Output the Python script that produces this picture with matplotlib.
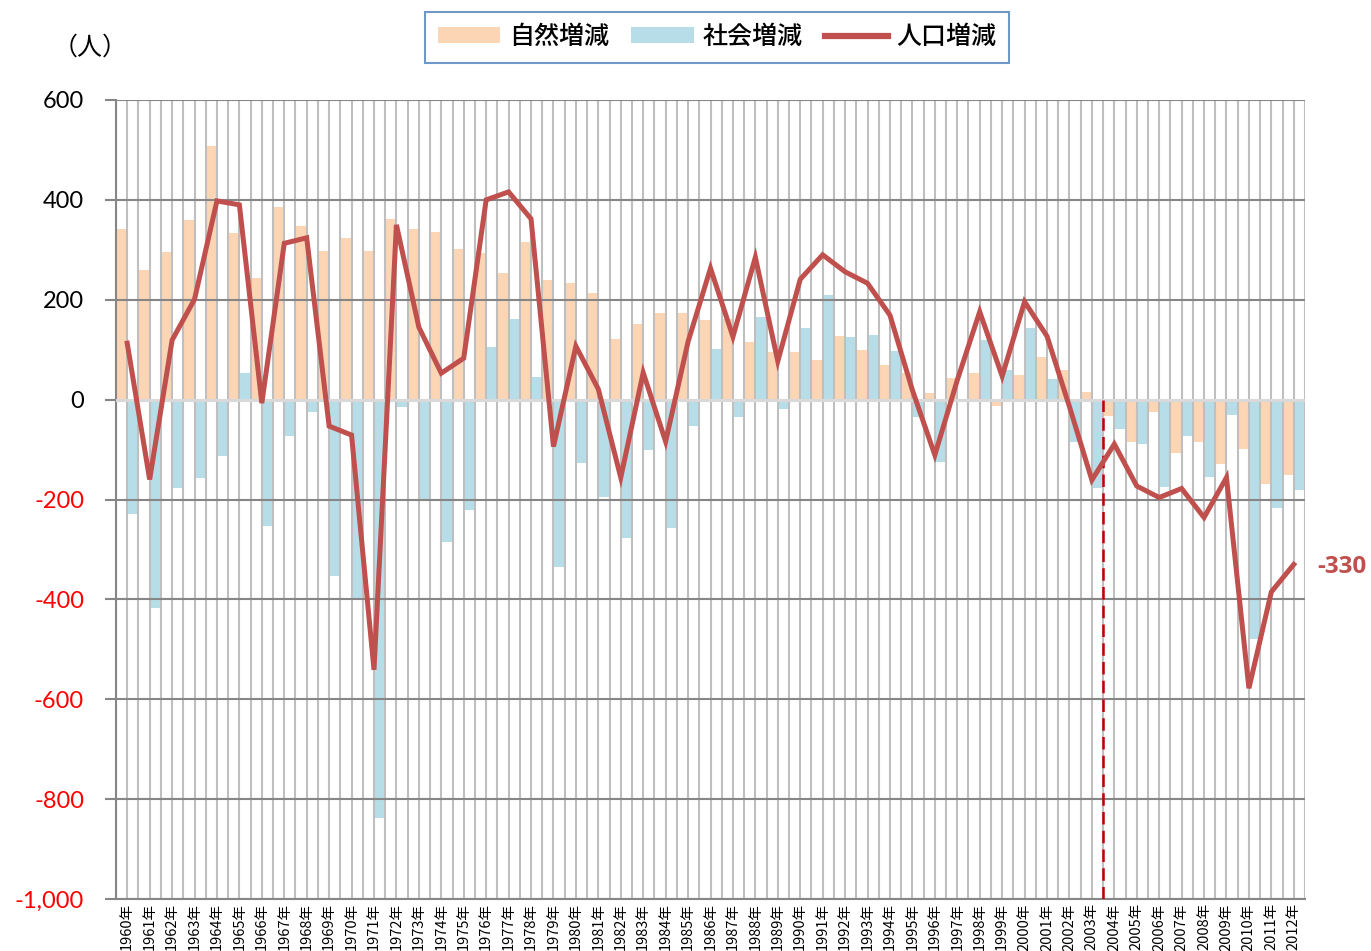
import matplotlib
matplotlib.use("Agg")
import matplotlib.pyplot as plt
import numpy as np
from matplotlib.patches import Patch
from matplotlib.lines import Line2D

years = list(range(1960, 2013))
year_labels = [f"{y}年" for y in years]

natural = [342, 259, 295, 360, 508, 333, 244, 385, 347, 298,
           323, 298, 362, 342, 336, 301, 293, 253, 315, 239,
           233, 213, 121, 152, 174, 173, 160, 161, 115, 96,
           95, 79, 127, 99, 70, 53, 14, 44, 53, -12,
           49, 85, 60, 15, -32, -85, -24, -107, -85, -128,
           -99, -169, -151]

social = [-230, -418, -176, -157, -112, 54, -254, -72, -24, -353,
          -398, -838, -14, -199, -285, -221, 105, 161, 46, -335,
          -126, -194, -277, -100, -258, -53, 102, -34, 166, -19,
          144, 209, 125, 129, 97, -34, -125, -5, 119, 59,
          144, 42, -84, -177, -59, -88, -174, -73, -154, -30,
          -479, -218, -180]

total = [113, -160, 119, 201, 398, 390, -7, 313, 324, -53,
         -71, -541, 350, 145, 53, 83, 400, 416, 362, -94,
         107, 21, -156, 54, -84, 116, 263, 126, 285, 77,
         241, 290, 256, 233, 169, 19, -111, 39, 176, 47,
         196, 127, -14, -161, -89, -173, -196, -178, -236, -156,
         -578, -385, -330]

y_ticks = [600, 400, 200, 0, -200, -400, -600, -800, -1000]
y_tick_labels = ["600", "400", "200", "0", "-200", "-400", "-600", "-800", "-1,000"]

series_names = ["自然増減", "社会増減", "人口増減"]
unit_label = "（人）"
end_label = "-330"
break_year = 2003.5

c_nat = "#FCD5B4"
c_soc = "#B7DEE8"
c_line = "#C0504D"

cjk = ["Noto Sans CJK JP", "DejaVu Sans"]

fig = plt.figure(figsize=(13.71, 9.51), dpi=100)
ax = fig.add_axes([116/1371, 1 - 899/951, (1305-116)/1371, (899-100)/951])

x = np.array(years, dtype=float)
ax.bar(x - 0.25, natural, width=0.5, color=c_nat, zorder=2, linewidth=0)
ax.bar(x + 0.25, social, width=0.5, color=c_soc, zorder=2, linewidth=0)

ax.set_xlim(years[0] - 0.5, years[-1] + 0.5)
ax.set_ylim(-1000, 600)

# vertical gridlines at every half year
for gx in np.arange(years[0] - 0.5, years[-1] + 0.51, 0.5):
    ax.axvline(gx, color="#BFBFBF", lw=1.5, zorder=2.5)
# horizontal gridlines
for gy in y_ticks:
    if gy == 0:
        ax.axhline(gy, color="#D9D9D9", lw=2.2, zorder=2.6)
    else:
        ax.axhline(gy, color="#868686", lw=1.5, zorder=2.6)

ax.plot(x, total, color=c_line, lw=3.6, zorder=4, solid_joinstyle="miter")
ax.vlines(break_year, -1000, 0, colors="#C00000", linestyles=(0, (5, 2.5)), lw=1.8, zorder=3.5)

ax.annotate(end_label, xy=(x[-1], total[-1]), xytext=(17, -2), textcoords="offset points",
            color=c_line, fontsize=17.5, fontweight="bold", va="center", ha="left",
            family=["Open Sans", "DejaVu Sans"], annotation_clip=False)

for s in ["top", "right"]:
    ax.spines[s].set_visible(False)
ax.spines["left"].set_color("#868686")
ax.spines["left"].set_linewidth(1.5)
ax.spines["bottom"].set_color("#868686")
ax.spines["bottom"].set_linewidth(1.5)

ax.set_yticks(y_ticks)
ax.set_yticklabels(y_tick_labels, family=["Lato", "DejaVu Sans"], fontsize=17)
for lbl, v in zip(ax.get_yticklabels(), y_ticks):
    lbl.set_color("black" if v >= 0 else "#FF0000")
ax.tick_params(axis="y", length=8, width=1.5, color="#868686", pad=15)

ax.set_xticks(x)
ax.set_xticklabels(year_labels, rotation=90, family=cjk, fontsize=10.5)
ax.tick_params(axis="x", length=0, pad=3)

fig.text(90/1371, 1 - 48/951, unit_label, ha="center", va="center", fontsize=18, family=cjk)

handles = [Patch(facecolor=c_nat, edgecolor="none"),
           Patch(facecolor=c_soc, edgecolor="none"),
           Line2D([0], [0], color=c_line, lw=4.5)]
leg = fig.legend(handles, series_names, loc="center", bbox_to_anchor=(717/1371, 1 - 37/951),
                 ncol=3, frameon=True, fancybox=False,
                 prop={"family": cjk, "size": 18, "weight": "medium"},
                 handlelength=2.5, handleheight=0.6, handletextpad=0.35, columnspacing=0.9,
                 borderpad=0.5, borderaxespad=0)
leg.get_frame().set_edgecolor("#4A7EBB")
leg.get_frame().set_linewidth(1.5)

fig.savefig("out.png", dpi=100)
